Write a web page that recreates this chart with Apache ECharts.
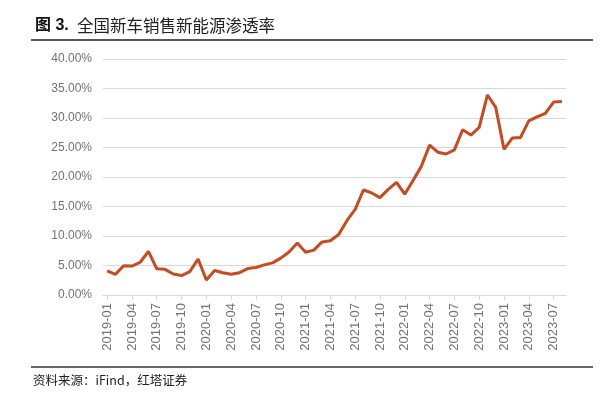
<!DOCTYPE html>
<html>
<head>
<meta charset="utf-8">
<script src="https://cdn.jsdelivr.net/npm/echarts@6/dist/echarts.min.js"></script>
<style>
  html, body { margin: 0; padding: 0; background: #fff; }
  #chart { width: 602px; height: 397px; }
</style>
</head>
<body>
<div id="chart"></div>
<script>
// 月份类目 2019-01 ~ 2023-08
var years = [2019, 2020, 2021, 2022, 2023];
var months = [];
years.forEach(function (y) {
    for (var m = 1; m <= 12; m++) {
        if (y === 2023 && m > 8) break;
        months.push(y + '-' + (m < 10 ? '0' + m : m));
    }
});

// 新能源渗透率 (%)
var penetration = [
    4.1, 3.5, 4.97, 4.9, 5.55, 7.4, 4.45, 4.35, 3.55, 3.3, 3.97, 6.1,
    2.54, 4.15, 3.78, 3.53, 3.78, 4.48, 4.67, 5.1, 5.45, 6.25, 7.3, 8.8,
    7.25, 7.6, 9.0, 9.2, 10.25, 12.6, 14.5, 17.8, 17.3, 16.5, 17.9, 19.1,
    17.1, 19.4, 21.8, 25.4, 24.2, 23.9, 24.6, 28.0, 27.1, 28.4, 33.9, 31.8,
    24.7, 26.6, 26.7, 29.5, 30.2, 30.8, 32.7, 32.8
];

var titleNo = '图 3.';
var titleText = '全国新车销售新能源渗透率';
var sourceText = '资料来源：iFind，红塔证券';

var chart = echarts.init(document.getElementById('chart'));

var option = {
    backgroundColor: '#fff',
    animation: false,
    grid: { left: 103, right: 36, top: 59, bottom: 102 },
    xAxis: {
        type: 'category',
        data: months,
        boundaryGap: true,
        axisLine: { lineStyle: { color: '#d9d9d9', width: 1 } },
        axisTick: { show: true, interval: 2, alignWithLabel: true, length: 5, lineStyle: { color: '#d9d9d9' } },
        axisLabel: {
            interval: 2,
            rotate: 90,
            color: '#737373',
            fontSize: 13,
            fontFamily: 'Liberation Sans',
            margin: 8
        }
    },
    yAxis: {
        type: 'value',
        min: 0,
        max: 40,
        interval: 5,
        axisLine: { show: false },
        axisTick: { show: false },
        splitLine: { lineStyle: { color: '#d9d9d9', width: 1 } },
        axisLabel: {
            color: '#737373',
            fontSize: 12,
            fontFamily: 'Liberation Sans',
            margin: 11,
            formatter: function (v) { return v.toFixed(2) + '%'; }
        }
    },
    series: [{
        type: 'line',
        data: penetration,
        symbol: 'none',
        lineStyle: { color: '#c84a1f', width: 3 }
    }],
    graphic: [
        {
            type: 'text', left: 35, top: 18,
            style: { text: titleNo, font: 'bold 16px "Liberation Sans", "Noto Sans CJK SC"', fill: '#111' }
        },
        {
            type: 'text', left: 77, top: 17,
            style: { text: titleText, font: '16.5px "Noto Sans CJK SC"', fill: '#222' }
        },
        {
            type: 'line',
            shape: { x1: 31, y1: 40, x2: 593, y2: 40 },
            style: { stroke: '#555', lineWidth: 2 }
        },
        {
            type: 'line',
            shape: { x1: 31, y1: 367, x2: 593, y2: 367 },
            style: { stroke: '#333', lineWidth: 1.5 }
        },
        {
            type: 'text', left: 33, top: 374,
            style: { text: sourceText, font: '12.5px "Noto Sans CJK SC"', fill: '#222' }
        }
    ]
};

chart.setOption(option);
</script>
</body>
</html>
